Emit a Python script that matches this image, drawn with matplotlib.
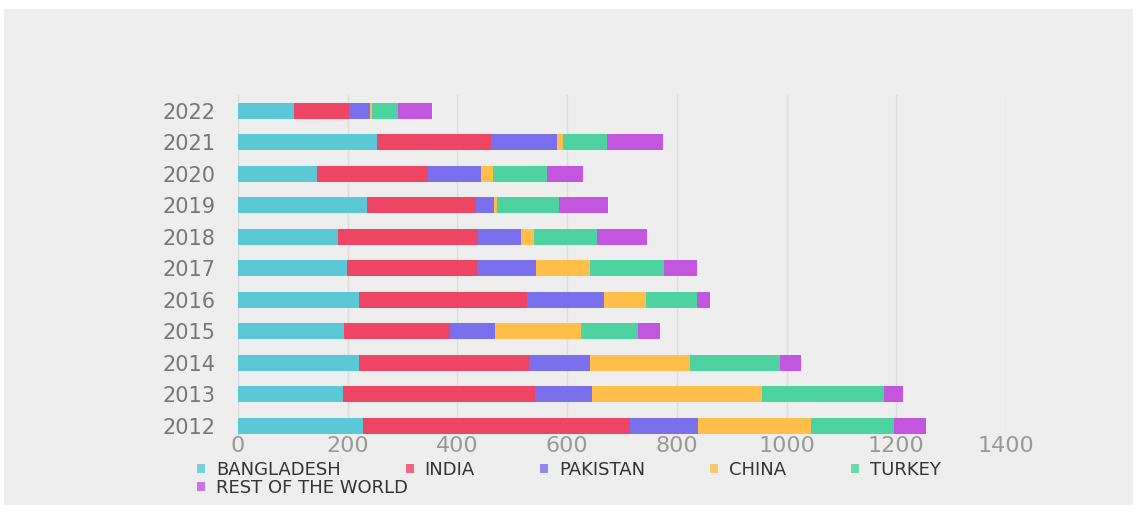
import matplotlib
matplotlib.use("Agg")
import matplotlib.pyplot as plt
from matplotlib.patches import Rectangle, Patch
import numpy as np

years = ["2012", "2013", "2014", "2015", "2016", "2017", "2018", "2019", "2020", "2021", "2022"]
series_names = ["BANGLADESH", "INDIA", "PAKISTAN", "CHINA", "TURKEY", "REST OF THE WORLD"]
colors = ["#5BC9D5", "#EF4565", "#7A70EE", "#FFBF4A", "#4DD3A0", "#C256DE"]

bangladesh = [228, 191, 221, 193, 221, 199, 182, 235, 144, 253, 102]
india = [487, 350, 310, 193, 306, 237, 255, 199, 202, 208, 100]
pakistan = [124, 104, 111, 82, 140, 108, 78, 33, 97, 120, 38]
china = [206, 310, 182, 157, 77, 97, 24, 5, 22, 11, 5]
turkey = [150, 222, 164, 104, 93, 135, 115, 113, 98, 80, 46]
rest_of_world = [60, 36, 38, 40, 24, 60, 91, 89, 66, 102, 62]

series = [bangladesh, india, pakistan, china, turkey, rest_of_world]

fig = plt.figure(figsize=(11.39, 5.13), dpi=100, facecolor="white")
# grey card behind the chart
card = Rectangle((4 / 1139, 1 - 505 / 513), 1129 / 1139, 496 / 513,
                 transform=fig.transFigure, facecolor="#eeeeee",
                 edgecolor="none", zorder=-10)
fig.patches.append(card)

ax = fig.add_axes([238 / 1139, 1 - 435 / 513, 768 / 1139, 340 / 513])
ax.set_zorder(1)
ax.set_facecolor("none")

y = np.arange(len(years))
left = np.zeros(len(years))
for name, vals, c in zip(series_names, series, colors):
    ax.barh(y, vals, left=left, height=0.51, color=c, label=name, zorder=3)
    left += np.array(vals)

ax.set_xlim(0, 1400)
ax.set_ylim(-0.29, 10.5)
ax.set_xticks(range(0, 1401, 200))
ax.set_yticks(y)
ax.set_yticklabels(years)
ax.tick_params(axis="y", length=0, pad=16, labelsize=15, labelcolor="#777777")
ax.tick_params(axis="x", length=0, pad=1, labelsize=16, labelcolor="#999999")
ax.grid(axis="x", color="#dddddd", linewidth=1, zorder=0)
for s in ["top", "right", "bottom"]:
    ax.spines[s].set_visible(False)
ax.spines["left"].set_color("#dddddd")

handles = [Patch(facecolor=c, edgecolor="none", alpha=0.8) for c in colors]
leg_kw = dict(loc="upper left", frameon=False, fontsize=13, handlelength=0.45,
              handleheight=0.45, handletextpad=0.6, borderpad=0, labelcolor="#333333")
leg1 = fig.legend(handles[:5], series_names[:5], bbox_to_anchor=(188 / 1139, 1 - 452 / 513),
                  ncol=5, columnspacing=3.6, **leg_kw)
leg2 = fig.legend(handles[5:], series_names[5:], bbox_to_anchor=(188 / 1139, 1 - 470 / 513),
                  ncol=1, **leg_kw)

fig.savefig("out.png", dpi=100, facecolor="white")
